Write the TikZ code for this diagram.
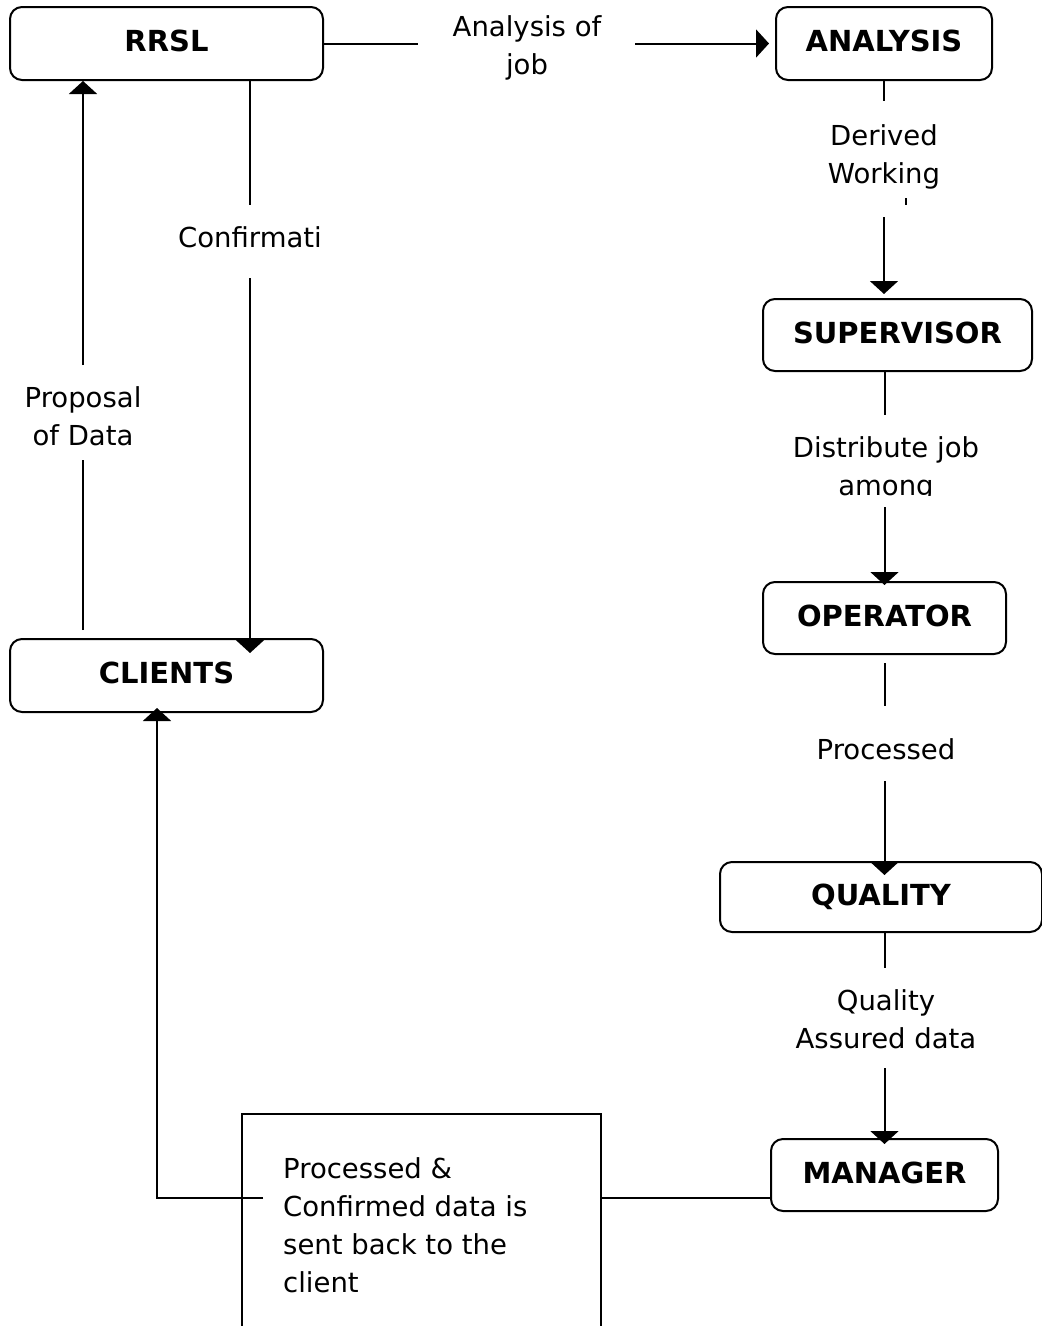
\documentclass[tikz,border=0pt]{standalone}
\usepackage{fontspec}
\setmainfont{DejaVu Sans}
\usetikzlibrary{arrows.meta,calc}
\tikzset{
  box/.style={draw, line width=2pt, rounded corners=12pt, fill=white,
    font=\fontsize{29}{34}\selectfont\bfseries, inner sep=0pt, text depth=5pt},
  lbl/.style={font=\fontsize{27.5}{38}\selectfont, align=center, inner sep=0pt},
  conn/.style={line width=2pt},
  arr/.style={conn, -{Triangle[width=28pt,length=13pt]}},
}
\begin{document}
\begin{tikzpicture}[x=1pt,y=-1pt]
\clip (0,0) rectangle (1042,1326);
\fill[white] (0,0) rectangle (1042,1326);

% boxes
\node[box, minimum width=313pt, minimum height=73pt] (rrsl) at (166.5,43.5) {RRSL};
\node[box, minimum width=216pt, minimum height=73pt] (analysis) at (884,43.5) {ANALYSIS};
\node[box, minimum width=269pt, minimum height=72pt] (supervisor) at (897.5,335) {SUPERVISOR};
\node[box, minimum width=243pt, minimum height=72pt] (operator) at (884.5,618) {OPERATOR};
\node[box, minimum width=322pt, minimum height=70pt] (quality) at (881,897) {QUALITY};
\node[box, minimum width=227pt, minimum height=72pt] (manager) at (884.5,1175) {MANAGER};
\node[box, minimum width=313pt, minimum height=73pt] (clients) at (166.5,675.5) {CLIENTS};

% message text box (open at the bottom)
\node[draw, line width=2pt, fill=white, minimum width=359pt, minimum height=260pt,
      anchor=north west, inner sep=0pt] (msgbox) at (241,1113) {};
\node[lbl, align=left, anchor=west] (msg) at (283,1225) {Processed \&\\Confirmed data is\\sent back to the\\client};

% labels
\node[lbl] (lan) at (527,48) {Analysis of\\job};
\node[lbl] (lder) at (884,157) {Derived\\Working};
\node[lbl] (ldis) at (886,469) {Distribute job\\among};
\fill[white] (820,496) rectangle (955,506);
\node[lbl] (lproc) at (886,749) {Processed};
\node[lbl] (lqual) at (886,1019) {Quality\\Assured data};
\node[lbl] (lconf) at (250,237) {Confirmati};
\node[lbl] (lprop) at (83,416) {Proposal\\of Data};
\draw[line width=2.5pt] (906,198) -- (906,205);

% gap coordinates
\coordinate (a1) at (418,43.5);   \coordinate (a2) at (635,43.5);
\coordinate (d1) at (884,101);    \coordinate (d2) at (884,217);
\coordinate (s1) at (884.5,415);  \coordinate (s2) at (884.5,507);
\coordinate (o1) at (884.5,706);  \coordinate (o2) at (884.5,781);
\coordinate (q1) at (884.5,968);  \coordinate (q2) at (884.5,1068);
\coordinate (c1) at (250,205);    \coordinate (c2) at (250,278);
\coordinate (r1) at (83,365);     \coordinate (r2) at (83,460);
\coordinate (m0) at ($(manager.west)+(0,23)$);
\coordinate (m1) at (263,1198);
\coordinate (cl) at ($(clients.south)+(-9.5,0)$);

% connectors
\draw[conn] (rrsl.east) -- (a1);
\draw[arr, shorten >=6pt] (a2) -- (analysis.west);

\draw[conn] (analysis.south) -- (d1);
\draw[arr, shorten >=4pt] (d2) -- (d2 |- supervisor.north);

\draw[conn] (operator.north |- supervisor.south) -- (s1);
\draw[arr, shorten >=-4pt] (s2) -- (operator.north);

\draw[conn] ($(operator.south)+(0,8)$) -- (o1);
\draw[arr, shorten >=-14pt] (o2) -- (o2 |- quality.north);

\draw[conn] (q1 |- quality.south) -- (q1);
\draw[arr, shorten >=-6pt] (q2) -- (manager.north);

\draw[conn] (m0) -- (msgbox.east |- m0);
\draw[arr, shorten >=-5pt] (m1) -| (cl);

\draw[conn] (c1 |- rrsl.south) -- (c1);
\draw[arr, shorten >=-15pt] (c2) -- (c2 |- clients.north);

\draw[conn] ($(r2 |- clients.north)+(0,-8)$) -- (r2);
\draw[arr] (r1) -- (r1 |- rrsl.south);
\end{tikzpicture}
\end{document}
